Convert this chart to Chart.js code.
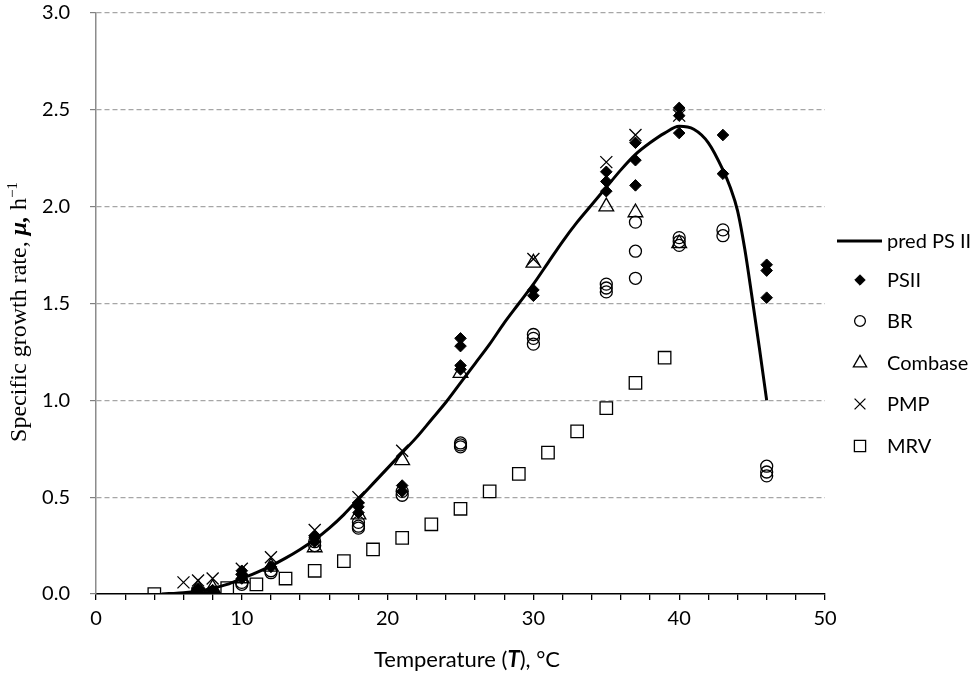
<!DOCTYPE html>
<html>
<head>
<meta charset="utf-8">
<script src="https://cdn.jsdelivr.net/npm/chart.js@4/dist/chart.umd.min.js"></script>
<style>
  html, body { margin: 0; padding: 0; background: #fff; }
  #wrap { width: 975px; height: 673px; }
</style>
</head>
<body>
<div id="wrap"><canvas id="myChart" width="975" height="673"></canvas></div>
<script>
/** DATA **/
const predT  = [4.5, 5, 6, 7, 8, 9, 10, 11, 12, 13, 14, 15, 16, 17, 18, 19, 20, 21, 22, 23, 24, 25, 26, 27, 28, 29, 30, 31, 32, 33, 34, 35, 36, 37, 38, 39, 40, 41, 42, 43, 43.5, 44, 44.5, 45, 45.5, 46];
const predMu = [0, 0.002, 0.006, 0.015, 0.03, 0.05, 0.08, 0.11, 0.145, 0.185, 0.23, 0.28, 0.34, 0.41, 0.49, 0.57, 0.65, 0.73, 0.81, 0.90, 0.99, 1.09, 1.19, 1.29, 1.40, 1.50, 1.60, 1.71, 1.82, 1.92, 2.01, 2.10, 2.19, 2.27, 2.33, 2.38, 2.415, 2.40, 2.33, 2.19, 2.10, 1.98, 1.78, 1.53, 1.27, 1.00];

const psiiT  = [7, 7, 8, 8, 10, 10, 10, 12, 15, 15, 15, 18, 18, 18, 21, 21, 25, 25, 25, 25, 30, 30, 35, 35, 35, 37, 37, 37, 40, 40, 40, 43, 43, 46, 46, 46];
const psiiMu = [0.03, 0.02, 0.02, 0.01, 0.12, 0.10, 0.08, 0.14, 0.30, 0.29, 0.27, 0.47, 0.45, 0.42, 0.56, 0.53, 1.32, 1.28, 1.18, 1.16, 1.57, 1.54, 2.18, 2.13, 2.08, 2.33, 2.24, 2.11, 2.51, 2.47, 2.38, 2.37, 2.17, 1.70, 1.67, 1.53];

const brT  = [7, 8, 10, 10, 12, 12, 15, 15, 18, 18, 18, 21, 21, 25, 25, 25, 30, 30, 30, 35, 35, 35, 37, 37, 37, 40, 40, 40, 43, 43, 46, 46, 46];
const brMu = [0.01, 0.01, 0.06, 0.05, 0.12, 0.11, 0.27, 0.25, 0.37, 0.35, 0.34, 0.53, 0.51, 0.78, 0.77, 0.76, 1.34, 1.32, 1.29, 1.60, 1.58, 1.56, 1.92, 1.77, 1.63, 1.84, 1.82, 1.80, 1.88, 1.85, 0.66, 0.63, 0.61];

const combT  = [7, 8, 10, 12, 15, 18, 21, 25, 30, 35, 37, 40];
const combMu = [0.03, 0.03, 0.08, 0.14, 0.24, 0.41, 0.69, 1.14, 1.71, 2.00, 1.97, 1.81];

const pmpT  = [6, 7, 8, 10, 12, 15, 18, 21, 30, 35, 37, 40];
const pmpMu = [0.06, 0.07, 0.08, 0.13, 0.19, 0.33, 0.50, 0.74, 1.73, 2.23, 2.37, 2.47];

const mrvT  = [4, 7, 9, 11, 13, 15, 17, 19, 21, 23, 25, 27, 29, 31, 33, 35, 37, 39];
const mrvMu = [0.00, 0.00, 0.03, 0.05, 0.08, 0.12, 0.17, 0.23, 0.29, 0.36, 0.44, 0.53, 0.62, 0.73, 0.84, 0.96, 1.09, 1.22];

const yTicks = [0, 0.5, 1.0, 1.5, 2.0, 2.5, 3.0];
const xLabels = [0, 10, 20, 30, 40, 50];

function pts(xs, ys) { return xs.map((x, i) => ({x: x, y: ys[i]})); }

const fontSans = 'Lato';
const fontSerif = '"Liberation Serif"';

const data = {
  datasets: [
    { label: 'pred PS II', data: pts(predT, predMu), showLine: true, borderColor: '#000', borderWidth: 3,
      pointRadius: 0, cubicInterpolationMode: 'monotone', fill: false, order: 6 },
    { label: 'PSII', data: pts(psiiT, psiiMu), pointStyle: 'rectRot', pointRadius: 5.8,
      backgroundColor: '#000', borderColor: '#000', borderWidth: 1, order: 5 },
    { label: 'BR', data: pts(brT, brMu), pointStyle: 'circle', pointRadius: 6,
      backgroundColor: 'rgba(0,0,0,0)', borderColor: '#000', borderWidth: 1.3, order: 4 },
    { label: 'Combase', data: pts(combT, combMu), pointStyle: 'triangle', pointRadius: 8.5,
      backgroundColor: 'rgba(0,0,0,0)', borderColor: '#000', borderWidth: 1.3, order: 3 },
    { label: 'PMP', data: pts(pmpT, pmpMu), pointStyle: 'crossRot', pointRadius: 8.5,
      backgroundColor: 'rgba(0,0,0,0)', borderColor: '#000', borderWidth: 1.3, order: 2 },
    { label: 'MRV', data: pts(mrvT, mrvMu), pointStyle: 'rect', pointRadius: 8.8,
      backgroundColor: 'rgba(0,0,0,0)', borderColor: '#000', borderWidth: 1.3, order: 1 }
  ]
};

// axis titles and legend, drawn by hand for mixed styles
const extras = {
  id: 'extras',
  afterDraw(chart) {
    const ctx = chart.ctx;
    ctx.save();
    ctx.fillStyle = '#000';
    ctx.textBaseline = 'alphabetic';

    // x title
    const xParts = [
      ['Temperature (', '22px ' + fontSans],
      ['T', 'bold italic 22px ' + fontSans],
      ['), \u00B0C', '22px ' + fontSans]
    ];
    let w = 0;
    xParts.forEach(p => { ctx.font = p[1]; w += ctx.measureText(p[0]).width; });
    let x = 467 - w / 2;
    xParts.forEach(p => { ctx.font = p[1]; ctx.fillText(p[0], x, 667); x += ctx.measureText(p[0]).width; });

    // y title
    const yParts = [
      ['Specific growth rate, ', '24px ' + fontSerif, 0],
      ['\u03BC,', 'bold italic 24px ' + fontSerif, 0],
      [' h', '24px ' + fontSerif, 0],
      ['\u22121', '15px ' + fontSerif, -9]
    ];
    w = 0;
    yParts.forEach(p => { ctx.font = p[1]; w += ctx.measureText(p[0]).width; });
    ctx.translate(26, 312);
    ctx.rotate(-Math.PI / 2);
    x = -w / 2;
    yParts.forEach(p => { ctx.font = p[1]; ctx.fillText(p[0], x, p[2]); x += ctx.measureText(p[0]).width; });
    ctx.setTransform(1, 0, 0, 1, 0, 0);

    // legend
    const legY = [241, 280, 321, 363, 404, 446];
    ctx.font = '20px ' + fontSans;
    ctx.textBaseline = 'middle';
    chart.data.datasets.forEach((ds, i) => {
      const y = legY[i];
      if (i === 0) {
        ctx.strokeStyle = '#000';
        ctx.lineWidth = 3;
        ctx.beginPath();
        ctx.moveTo(837, y);
        ctx.lineTo(882, y);
        ctx.stroke();
      } else {
        ctx.strokeStyle = '#000';
        ctx.fillStyle = ds.backgroundColor;
        ctx.lineWidth = ds.borderWidth;
        Chart.helpers.drawPoint(ctx, {pointStyle: ds.pointStyle, radius: ds.pointRadius * 0.9, borderWidth: ds.borderWidth, rotation: 0}, 860, y);
      }
      ctx.fillStyle = '#000';
      ctx.fillText(ds.label, 887, y + 1);
    });
    ctx.restore();
  }
};

const config = {
  type: 'scatter',
  data,
  options: {
    responsive: false,
    animation: false,
    layout: { padding: { top: 13, right: 150, left: 0, bottom: 0 } },
    plugins: { legend: { display: false }, tooltip: { enabled: false } },
    scales: {
      x: {
        type: 'linear', min: 0, max: 50,
        afterFit: s => { s.height = 79; s.paddingLeft = 0; s.paddingRight = 0; },
        ticks: { stepSize: 2, autoSkip: false, maxRotation: 0, color: '#000', padding: 7,
          font: { family: fontSans, size: 20 },
          callback: v => xLabels.includes(v) ? String(v) : '' },
        grid: { drawOnChartArea: false, color: '#000', tickColor: '#000', tickLength: 6, lineWidth: 1.3 },
        border: { color: '#000', width: 1.5 }
      },
      y: {
        min: 0, max: 3,
        afterFit: s => { s.width = 96; s.paddingTop = 0; s.paddingBottom = 0; },
        afterBuildTicks: s => { s.ticks = yTicks.map(v => ({value: v})); },
        ticks: { color: '#000', padding: 20, font: { family: fontSans, size: 20 },
          callback: v => Number(v).toFixed(1) },
        grid: { color: c => (c.tick && c.tick.value === 0) ? 'rgba(0,0,0,0)' : '#a6a6a6',
          tickColor: '#808080', tickLength: 6, lineWidth: 1.2 },
        border: { color: '#8c8c8c', width: 1.5, dash: [5, 3] }
      }
    }
  },
  plugins: [extras]
};

var myChart = new Chart(document.getElementById('myChart'), config);
</script>
</body>
</html>
